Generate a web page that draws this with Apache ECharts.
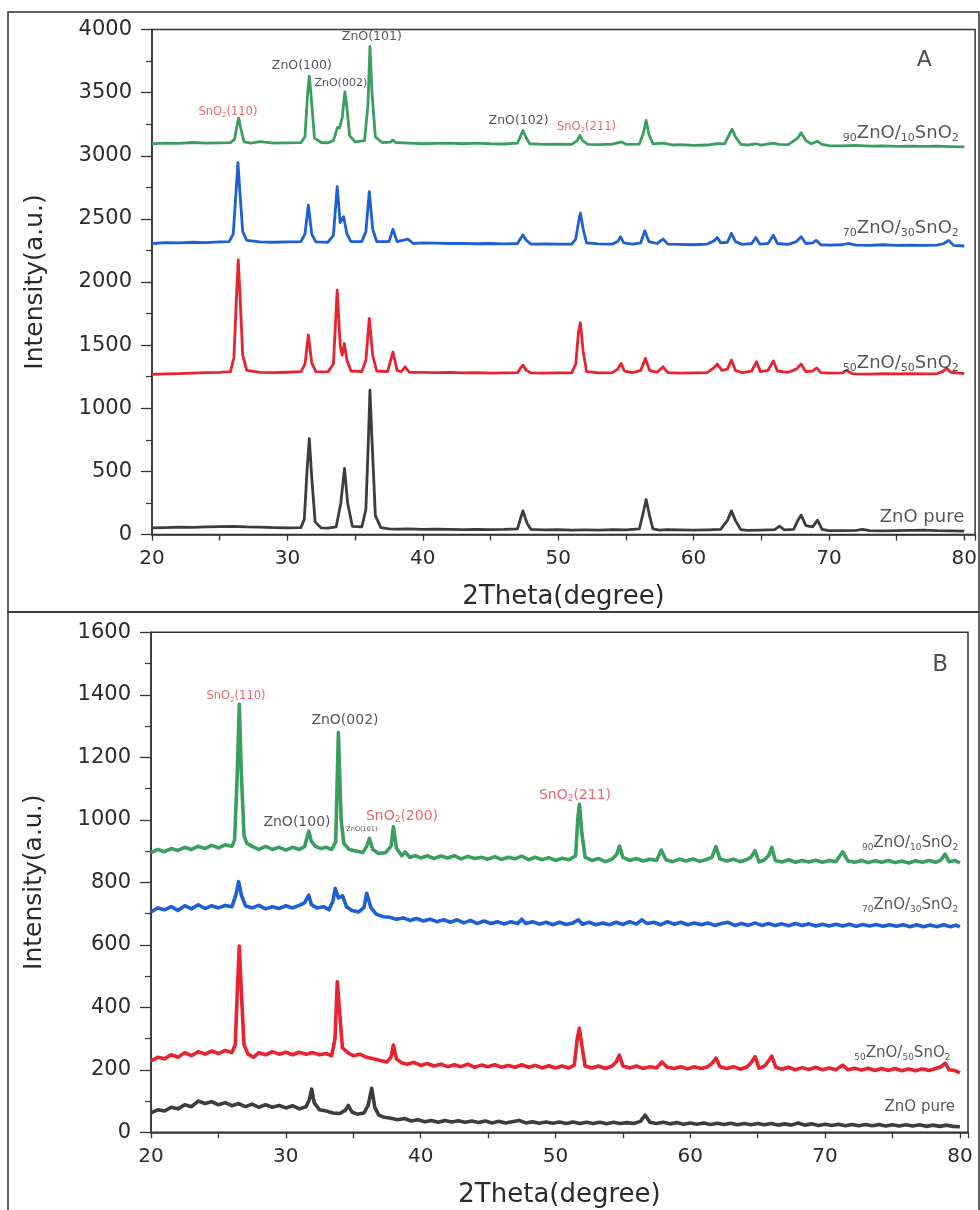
<!DOCTYPE html>
<html>
<head>
<meta charset="utf-8">
<script src="https://cdn.jsdelivr.net/npm/echarts@6/dist/echarts.min.js"></script>
<style>
html,body{margin:0;padding:0;background:#fff;}
#chart{width:980px;height:1210px;}
</style>
</head>
<body>
<div id="chart"></div>
<script>
// ---------------- DATA ----------------
// Panel A (2Theta, intensity)
const zno90A = [[20,3095],[21,3100],[22,3098],[23,3105],[24,3100],[25,3102],[25.8,3104],[26.1,3130],[26.3,3250],[26.4,3300],[26.55,3220],[26.8,3110],[27.3,3100],[28,3112],[29,3100],[30,3102],[31,3104],[31.3,3150],[31.5,3500],[31.62,3630],[31.75,3480],[32,3140],[32.5,3105],[33,3102],[33.4,3120],[33.7,3225],[33.85,3220],[34.05,3300],[34.25,3505],[34.4,3380],[34.6,3160],[35,3110],[35.7,3120],[35.95,3400],[36.1,3865],[36.25,3500],[36.5,3150],[37,3105],[37.6,3108],[37.8,3125],[38,3105],[39,3100],[40,3095],[41,3098],[42,3100],[43,3095],[44,3100],[45,3095],[46,3093],[47,3100],[47.2,3150],[47.4,3200],[47.6,3150],[47.9,3095],[49,3090],[50,3092],[51,3090],[51.4,3120],[51.6,3160],[51.8,3120],[52.2,3090],[53,3088],[54,3092],[54.7,3110],[55,3090],[56,3092],[56.3,3180],[56.5,3280],[56.7,3170],[57,3095],[57.8,3100],[58.5,3085],[59,3088],[60,3082],[61,3085],[61.7,3095],[62.3,3095],[62.6,3160],[62.85,3210],[63.1,3150],[63.5,3090],[64,3085],[64.6,3095],[65,3085],[65.9,3100],[66.3,3090],[67,3088],[67.7,3140],[67.95,3182],[68.3,3120],[68.7,3095],[69.15,3115],[69.5,3090],[70,3080],[71,3078],[72,3082],[73,3076],[74,3078],[75,3075],[76,3077],[77,3074],[78,3076],[79,3072],[80,3070]];
const zno70A = [[20,2305],[21,2312],[22,2310],[23,2315],[24,2312],[25,2318],[25.7,2320],[26.0,2380],[26.2,2700],[26.35,2945],[26.5,2700],[26.7,2400],[27,2330],[28,2318],[29,2315],[30,2318],[31,2320],[31.3,2380],[31.55,2608],[31.8,2380],[32.1,2318],[33,2315],[33.4,2370],[33.68,2755],[33.9,2470],[34.15,2518],[34.4,2380],[34.7,2320],[35.5,2320],[35.8,2400],[36.05,2715],[36.3,2420],[36.6,2320],[37.5,2320],[37.8,2418],[38.1,2320],[38.9,2340],[39.3,2305],[40,2310],[41,2308],[42,2305],[43,2306],[44,2303],[45,2305],[46,2302],[47,2305],[47.2,2340],[47.4,2372],[47.65,2330],[48,2300],[49,2302],[50,2300],[51,2300],[51.3,2340],[51.55,2500],[51.65,2545],[51.85,2420],[52.1,2310],[53,2302],[54,2300],[54.4,2320],[54.6,2358],[54.85,2310],[55.5,2300],[56.1,2310],[56.4,2406],[56.7,2320],[57.3,2305],[57.75,2340],[58.1,2300],[59,2298],[60,2295],[61,2300],[61.5,2325],[61.75,2353],[62,2310],[62.5,2315],[62.8,2385],[63.1,2320],[63.6,2298],[64.3,2305],[64.6,2353],[64.9,2300],[65.5,2305],[65.9,2370],[66.2,2305],[67,2298],[67.6,2320],[67.95,2358],[68.3,2305],[68.8,2310],[69.06,2330],[69.4,2295],[70,2292],[71,2295],[71.4,2305],[72,2292],[73,2290],[74,2295],[75,2290],[76,2292],[77,2290],[78,2292],[78.5,2305],[78.85,2330],[79.2,2290],[80,2285]];
const zno50A = [[20,1268],[21,1272],[22,1275],[23,1278],[24,1282],[25,1284],[25.8,1290],[26.05,1400],[26.25,1900],[26.37,2175],[26.5,1900],[26.7,1420],[27,1300],[28,1284],[29,1282],[30,1285],[31,1290],[31.3,1350],[31.55,1580],[31.8,1360],[32.1,1290],[33,1288],[33.4,1350],[33.68,1936],[33.9,1500],[34.05,1420],[34.2,1513],[34.4,1380],[34.7,1295],[35.5,1290],[35.8,1380],[36.05,1712],[36.3,1420],[36.6,1295],[37.4,1290],[37.8,1447],[38.1,1300],[38.4,1290],[38.7,1328],[39,1285],[40,1284],[41,1282],[42,1284],[43,1280],[44,1282],[45,1278],[46,1280],[47,1282],[47.2,1315],[47.4,1342],[47.65,1300],[48,1280],[49,1278],[50,1280],[51,1280],[51.3,1350],[51.5,1600],[51.64,1677],[51.85,1450],[52.1,1290],[53,1280],[54,1282],[54.4,1310],[54.65,1355],[54.9,1295],[55.5,1282],[56.1,1300],[56.45,1395],[56.75,1300],[57.3,1285],[57.75,1328],[58.1,1282],[59,1278],[60,1280],[61,1282],[61.5,1320],[61.75,1350],[62.1,1300],[62.5,1310],[62.8,1381],[63.1,1300],[63.6,1282],[64.3,1295],[64.65,1368],[64.95,1290],[65.5,1300],[65.9,1375],[66.2,1295],[67,1285],[67.6,1310],[67.95,1350],[68.3,1290],[68.8,1295],[69.1,1320],[69.4,1282],[70,1278],[71,1280],[71.3,1300],[71.7,1275],[72,1272],[73,1270],[74,1275],[75,1272],[76,1274],[77,1272],[78,1275],[78.4,1290],[78.7,1316],[79,1285],[80,1275]];
const znoPureA = [[20,52],[21,55],[22,58],[23,56],[24,60],[25,62],[26,65],[27,60],[28,58],[29,55],[30,52],[31,55],[31.25,120],[31.45,500],[31.62,760],[31.8,450],[32.05,100],[32.5,52],[33,50],[33.6,60],[33.95,250],[34.22,523],[34.45,250],[34.8,65],[35.5,60],[35.8,200],[36.0,800],[36.1,1143],[36.25,750],[36.5,150],[36.9,55],[37.5,45],[38,42],[39,44],[40,40],[41,42],[42,40],[43,38],[44,40],[45,38],[46,40],[47,45],[47.2,120],[47.4,187],[47.7,90],[48,40],[49,36],[50,38],[51,35],[52,36],[53,35],[54,38],[55,36],[56,45],[56.3,180],[56.5,277],[56.75,150],[57,45],[57.5,35],[58,38],[59,36],[60,34],[61,36],[62,40],[62.5,110],[62.8,187],[63.1,110],[63.5,38],[64,32],[65,34],[66,38],[66.35,66],[66.7,36],[67.4,40],[67.7,110],[67.95,153],[68.3,70],[68.8,60],[69.15,113],[69.5,40],[70,30],[71,30],[72,32],[72.5,40],[73,30],[74,28],[75,30],[76,32],[77,35],[78,30],[79,28],[80,26]];

// Panel B
const zno90B = [[20,895],[20.5,905],[21,898],[21.5,908],[22,902],[22.5,912],[23,905],[23.5,915],[24,908],[24.5,918],[25,910],[25.5,920],[26,915],[26.2,935],[26.4,1150],[26.55,1370],[26.7,1150],[26.9,950],[27.1,925],[27.5,915],[28,905],[28.5,915],[29,905],[29.5,912],[30,903],[30.5,912],[31,905],[31.4,915],[31.7,964],[31.9,930],[32.2,915],[32.6,908],[33,912],[33.4,905],[33.7,930],[33.9,1279],[34.1,1000],[34.3,925],[34.7,905],[35.2,900],[35.7,895],[36,915],[36.2,941],[36.45,905],[36.9,892],[37.4,895],[37.8,915],[37.98,978],[38.2,910],[38.6,885],[38.85,897],[39.2,880],[39.6,885],[40,878],[40.5,885],[41,876],[41.5,884],[42,878],[42.5,885],[43,875],[43.5,883],[44,876],[44.5,880],[45,874],[45.5,882],[46,873],[46.5,880],[47,875],[47.5,884],[48,872],[48.5,880],[49,872],[49.5,879],[50,870],[50.5,877],[51,872],[51.5,885],[51.65,1000],[51.78,1050],[51.95,960],[52.2,880],[52.7,870],[53.2,876],[53.7,866],[54.2,874],[54.55,890],[54.75,916],[55,880],[55.5,870],[56,876],[56.5,868],[57,874],[57.5,870],[57.85,903],[58.2,872],[58.7,866],[59.2,874],[59.7,868],[60.2,875],[60.7,867],[61.2,873],[61.6,880],[61.9,914],[62.2,875],[62.7,868],[63.2,874],[63.7,866],[64.2,873],[64.5,880],[64.8,901],[65.1,865],[65.5,872],[65.8,885],[66.05,912],[66.3,870],[66.8,865],[67.3,872],[67.8,864],[68.3,870],[68.8,865],[69.3,871],[69.8,864],[70.3,870],[70.8,866],[71.3,898],[71.7,868],[72.2,864],[72.7,870],[73.2,863],[73.7,869],[74.2,864],[74.7,870],[75.2,863],[75.7,868],[76.2,862],[76.7,869],[77.2,864],[77.7,870],[78.2,864],[78.6,872],[78.9,890],[79.2,866],[79.6,870],[80,862]];
const zno70B = [[20,705],[20.5,718],[21,712],[21.5,722],[22,710],[22.5,725],[23,715],[23.5,728],[24,716],[24.5,725],[25,718],[25.5,726],[26,722],[26.3,760],[26.5,802],[26.7,760],[27,725],[27.5,718],[28,726],[28.5,715],[29,722],[29.5,716],[30,725],[30.5,718],[31,726],[31.4,735],[31.7,759],[31.9,728],[32.3,718],[32.8,722],[33.2,712],[33.5,740],[33.66,781],[33.9,750],[34.2,757],[34.5,722],[34.9,710],[35.4,705],[35.8,720],[36.0,765],[36.3,720],[36.7,698],[37.2,690],[37.7,688],[38.2,682],[38.7,686],[39.2,678],[39.7,684],[40.2,676],[40.7,682],[41.2,674],[41.7,680],[42.2,672],[42.7,680],[43.2,670],[43.7,678],[44.2,668],[44.7,676],[45.2,668],[45.7,674],[46.2,666],[46.7,674],[47.2,668],[47.5,682],[47.8,668],[48.3,674],[48.8,666],[49.3,672],[49.8,664],[50.3,672],[50.8,665],[51.3,670],[51.7,680],[52,666],[52.5,672],[53,664],[53.5,670],[54,664],[54.5,672],[55,665],[55.5,674],[56,666],[56.4,680],[56.8,668],[57.3,672],[57.8,664],[58.3,674],[58.8,666],[59.3,672],[59.8,664],[60.3,670],[60.8,664],[61.3,670],[61.8,662],[62.3,668],[62.8,672],[63.3,662],[63.8,668],[64.3,662],[64.8,670],[65.3,662],[65.8,668],[66.3,662],[66.8,667],[67.3,661],[67.8,668],[68.3,662],[68.8,667],[69.3,660],[69.8,666],[70.3,660],[70.8,666],[71.3,660],[71.8,666],[72.3,659],[72.8,665],[73.3,660],[73.8,665],[74.3,659],[74.8,664],[75.3,659],[75.8,664],[76.3,658],[76.8,664],[77.3,658],[77.8,663],[78.3,658],[78.8,664],[79.3,658],[79.7,663],[80,657]];
const zno50B = [[20,228],[20.5,240],[21,235],[21.5,248],[22,240],[22.5,255],[23,245],[23.5,258],[24,250],[24.5,260],[25,252],[25.5,262],[26,255],[26.25,280],[26.4,450],[26.55,596],[26.7,450],[26.9,280],[27.2,250],[27.6,240],[28,255],[28.5,248],[29,258],[29.5,250],[30,256],[30.5,248],[31,256],[31.5,250],[32,255],[32.5,248],[33,252],[33.4,245],[33.65,300],[33.82,482],[34,380],[34.2,270],[34.6,255],[35,245],[35.5,250],[36,240],[36.5,235],[37,230],[37.5,225],[37.8,240],[37.98,279],[38.2,235],[38.6,222],[39,218],[39.5,224],[40,214],[40.5,220],[41,212],[41.5,218],[42,210],[42.5,216],[43,210],[43.5,218],[44,208],[44.5,215],[45,210],[45.5,216],[46,208],[46.5,214],[47,208],[47.5,216],[48,208],[48.5,214],[49,206],[49.5,213],[50,206],[50.5,212],[51,206],[51.4,215],[51.62,300],[51.77,333],[51.95,280],[52.2,212],[52.7,206],[53.2,212],[53.7,204],[54.2,212],[54.5,225],[54.74,247],[55,212],[55.5,206],[56,212],[56.5,204],[57,210],[57.5,206],[57.9,225],[58.3,208],[58.8,204],[59.3,210],[59.8,203],[60.3,210],[60.8,204],[61.3,210],[61.6,220],[61.91,237],[62.2,210],[62.7,204],[63.2,210],[63.7,202],[64.2,209],[64.5,222],[64.81,242],[65.1,205],[65.5,212],[65.8,228],[66.05,244],[66.35,208],[66.8,202],[67.3,208],[67.8,200],[68.3,207],[68.8,201],[69.3,208],[69.8,200],[70.3,206],[70.8,200],[71.3,215],[71.7,200],[72.2,205],[72.7,199],[73.2,205],[73.7,198],[74.2,204],[74.7,198],[75.2,204],[75.7,197],[76.2,203],[76.7,197],[77.2,203],[77.7,198],[78.2,204],[78.6,210],[78.9,221],[79.2,200],[79.6,198],[80,190]];
const znoPureB = [[20,62],[20.5,72],[21,68],[21.5,80],[22,75],[22.5,88],[23,82],[23.5,100],[24,92],[24.5,98],[25,88],[25.5,95],[26,85],[26.5,92],[27,82],[27.5,90],[28,80],[28.5,88],[29,80],[29.5,86],[30,78],[30.5,85],[31,75],[31.5,82],[31.75,105],[31.92,138],[32.1,95],[32.5,72],[33,68],[33.5,62],[34,60],[34.4,70],[34.64,86],[34.9,65],[35.3,58],[35.8,62],[36.1,85],[36.37,141],[36.6,80],[36.9,55],[37.3,48],[37.8,45],[38.3,40],[38.8,44],[39.3,36],[39.8,40],[40.3,34],[40.8,38],[41.3,32],[41.8,38],[42.3,33],[42.8,37],[43.3,32],[43.8,36],[44.3,31],[44.8,36],[45.3,30],[45.8,35],[46.3,30],[46.8,34],[47.3,38],[47.8,30],[48.3,34],[48.8,29],[49.3,33],[49.8,29],[50.3,33],[50.8,28],[51.3,33],[51.8,28],[52.3,32],[52.8,28],[53.3,32],[53.8,27],[54.3,32],[54.8,28],[55.3,31],[55.8,28],[56.3,35],[56.65,55],[57,32],[57.5,28],[58,32],[58.5,27],[59,31],[59.5,26],[60,30],[60.5,26],[61,30],[61.5,25],[62,29],[62.5,25],[63,29],[63.5,24],[64,28],[64.5,24],[65,28],[65.5,24],[66,28],[66.5,23],[67,27],[67.5,23],[68,30],[68.5,23],[69,27],[69.5,22],[70,26],[70.5,22],[71,26],[71.5,21],[72,25],[72.5,21],[73,25],[73.5,21],[74,25],[74.5,20],[75,24],[75.5,20],[76,24],[76.5,20],[77,24],[77.5,19],[78,23],[78.5,19],[79,23],[79.5,19],[80,18]];

// Text annotations: [2theta, intensity, text]
const peakTextA = [[25.61,3347,'{m|SnO}{s|2}{m|(110)}'],[31.07,3711,'{m|ZnO(100)}'],[33.95,3577,'{m|ZnO(002)}'],[36.24,3941,'{m|ZnO(101)}'],[47.08,3275,'{m|ZnO(102)}'],[52.10,3228,'{m|SnO}{s|2}{m|(211)}']];
const peakTextAKind = ['redS','blkS','blkXS','blkS','blkS','redS'];
const sampleTextA = [[79.6,3180,'{s|90}{m|ZnO/}{s|10}{m|SnO}{s|2}'],[79.6,2427,'{s|70}{m|ZnO/}{s|30}{m|SnO}{s|2}'],[79.6,1357,'{s|50}{m|ZnO/}{s|50}{m|SnO}{s|2}'],[80.0,137,'{m|ZnO pure}']];
const peakTextB = [[26.31,1396,'{m|SnO}{s|2}{m|(110)}'],[34.39,1319,'{m|ZnO(002)}'],[30.83,992,'{m|ZnO(100)}'],[35.65,970,'{m|ZnO(101)}'],[38.62,1012,'{m|SnO}{s|2}{m|(200)}'],[51.45,1079,'{m|SnO}{s|2}{m|(211)}']];
const peakTextBKind = ['redS','blkM','blkM','blkT','redM','redM'];
const sampleTextB = [[79.87,926,'{s|90}{m|ZnO/}{s|10}{m|SnO}{s|2}'],[79.87,727,'{s|70}{m|ZnO/}{s|30}{m|SnO}{s|2}'],[79.3,254,'{s|50}{m|ZnO/}{s|50}{m|SnO}{s|2}'],[79.64,81,'{m|ZnO pure}']];
const panelTags = [[77.05,3759,'A'],[78.53,1496,'B']];

const xTicks = [20,30,40,50,60,70,80];

// ---------------- STYLE / BUILD ----------------
const FONT = 'DejaVu Sans';
const TXT = '#2b2b2b';
const COL = {g:'#3a9e60', b:'#1e5fd6', r:'#e8232f', k:'#3d3d3d'};
const RED_T = '#e0404a';

function rich(size, color){
  return {
    m:{fontFamily:FONT,fontSize:size,color:color,lineHeight:size+3},
    s:{fontFamily:FONT,fontSize:Math.round(size*0.62),color:color,lineHeight:Math.round(size*0.62),verticalAlign:'bottom'}
  };
}
const KIND = {
  redS: rich(11.5, RED_T), blkS: rich(12.5, TXT), blkXS: rich(11, TXT), blkM: rich(14, TXT),
  blkT: rich(6.5, TXT), redM: rich(14, RED_T)
};

function textSeries(list, kinds, align, xi, sizeRich){
  return {
    type:'scatter', xAxisIndex:xi, yAxisIndex:xi, silent:true, symbolSize:0.1, z:5,
    itemStyle:{color:'rgba(0,0,0,0)'},
    data: list.map((t,i)=>({
      value:[t[0],t[1]],
      label:{show:true, position:[0,0], align:align, verticalAlign:'middle',
        formatter:t[2], rich: kinds ? KIND[kinds[i]] : sizeRich}
    }))
  };
}

function lineSeries(data, color, xi, w){
  return {type:'line', xAxisIndex:xi, yAxisIndex:xi, data:data, showSymbol:false, symbol:'none',
    silent:true, lineStyle:{color:color, width:w, join:'round'}, itemStyle:{color:color}, z:3};
}

function xAxisCfg(gi, max){
  return {
    type:'value', gridIndex:gi, min:20, max:max, interval:5,
    axisLine:{show:true, onZero:false, lineStyle:{color:'#333', width:1.5}},
    axisTick:{show:true, length:6, lineStyle:{color:'#333', width:1.3}},
    axisLabel:{fontFamily:FONT, fontSize:20, color:TXT, margin:14,
      formatter:v=> (xTicks.indexOf(v)>=0 ? String(v) : '')},
    splitLine:{show:false},
    name:'2Theta(degree)', nameLocation:'middle', nameGap:50,
    nameTextStyle:{fontFamily:FONT, fontSize:26, color:TXT}
  };
}
function yAxisCfg(gi, max, interval){
  return {
    type:'value', gridIndex:gi, min:0, max:max, interval:interval,
    axisLine:{show:true, onZero:false, lineStyle:{color:'#333', width:1.5}},
    axisTick:{show:true, length:11, lineStyle:{color:'#333', width:1.3}},
    minorTick:{show:true, splitNumber:2, length:6, lineStyle:{color:'#333', width:1.2}},
    axisLabel:{fontFamily:FONT, fontSize:21, color:TXT, margin:20, formatter:v=>String(v)},
    splitLine:{show:false},
    name:'Intensity(a.u.)', nameLocation:'middle', nameGap:104,
    nameTextStyle:{fontFamily:FONT, fontSize:25, color:TXT}
  };
}

const chart = echarts.init(document.getElementById('chart'), null, {renderer:'canvas'});
chart.setOption({
  animation:false,
  backgroundColor:'#fff',
  grid:[
    {left:152, top:29.5, width:824, height:505, show:true, borderColor:'#333', borderWidth:1.5, containLabel:false},
    {left:151, top:632.3, width:817, height:500, show:true, borderColor:'#333', borderWidth:1.5, containLabel:false}
  ],
  xAxis:[xAxisCfg(0, 80.8), xAxisCfg(1, 80.6)],
  yAxis:[yAxisCfg(0, 4000, 500), yAxisCfg(1, 1600, 200)],
  graphic:[
    {type:'rect', shape:{x:8, y:12, width:971, height:600}, style:{fill:'none', stroke:'#333', lineWidth:1.5}, silent:true},
    {type:'rect', shape:{x:8, y:612, width:971, height:610}, style:{fill:'none', stroke:'#333', lineWidth:1.5}, silent:true}
  ],
  series:[
    lineSeries(znoPureA, COL.k, 0, 2.8),
    lineSeries(zno50A, COL.r, 0, 2.8),
    lineSeries(zno70A, COL.b, 0, 2.8),
    lineSeries(zno90A, COL.g, 0, 2.8),
    lineSeries(znoPureB, COL.k, 1, 3.6),
    lineSeries(zno50B, COL.r, 1, 3.6),
    lineSeries(zno70B, COL.b, 1, 3.6),
    lineSeries(zno90B, COL.g, 1, 3.6),
    textSeries(peakTextA, peakTextAKind, 'center', 0),
    textSeries(sampleTextA, null, 'right', 0, rich(18, TXT)),
    textSeries(peakTextB, peakTextBKind, 'center', 1),
    textSeries(sampleTextB, null, 'right', 1, rich(15, TXT)),
    textSeries([[panelTags[0][0],panelTags[0][1],'{m|'+panelTags[0][2]+'}']], null, 'center', 0, rich(22, '#222')),
    textSeries([[panelTags[1][0],panelTags[1][1],'{m|'+panelTags[1][2]+'}']], null, 'center', 1, rich(23, '#222'))
  ]
});
</script>
</body>
</html>
